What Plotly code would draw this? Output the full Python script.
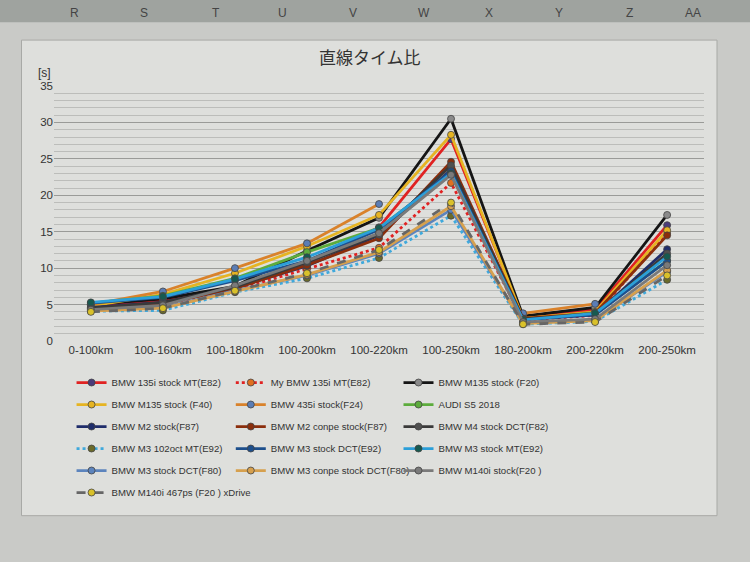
import plotly.graph_objects as go

categories = ['0-100km', '100-160km', '100-180km', '100-200km', '100-220km',
              '100-250km', '180-200km', '200-220km', '200-250km']

names = [
    'BMW 135i stock MT(E82)', 'My BMW 135i MT(E82)', 'BMW M135 stock (F20)',
    'BMW M135 stock (F40)', 'BMW 435i stock(F24)', 'AUDI S5 2018',
    'BMW M2 stock(F87)', 'BMW M2 conpe stock(F87)', 'BMW M4 stock DCT(F82)',
    'BMW M3 102oct MT(E92)', 'BMW M3 stock DCT(E92)', 'BMW M3 stock MT(E92)',
    'BMW M3 stock DCT(F80)', 'BMW M3 conpe stock DCT(F80)', 'BMW M140i stock(F20 )',
    'BMW M140i 467ps (F20 ) xDrive',
]

s_135i_mt = [4.9, 5.5, 7.3, 10.6, 15.6, 27.7, 3.3, 4.3, 15.9]
s_my_135i = [4.5, 5.0, 7.0, 9.9, 12.8, 21.7, 2.9, 3.5, 14.8]
s_m135_f20 = [5.0, 5.8, 7.5, 12.4, 16.9, 30.5, 3.4, 4.6, 17.3]
s_m135_f40 = [4.8, 6.4, 9.3, 13.0, 17.3, 28.3, 3.1, 4.0, 15.2]
s_435i = [5.0, 6.8, 10.0, 13.4, 18.8, None, 3.8, 5.1, None]
s_audi_s5 = [5.2, 6.2, 8.6, 12.2, 15.5, 23.0, 3.0, 3.9, 11.0]
s_m2 = [4.6, 5.3, 7.3, 10.3, 14.5, 23.5, 3.0, 3.6, 12.6]
s_m2_coupe = [4.4, 5.1, 7.2, 10.4, 14.1, 24.6, 3.1, 3.8, 14.5]
s_m4_dct = [4.5, 5.3, 7.4, 10.8, 14.6, 24.1, 3.0, 3.7, 12.0]
s_m3_102oct = [4.1, 4.2, 6.7, 8.6, 11.4, 17.2, 2.3, 2.7, 8.4]
s_m3_dct_e92 = [5.2, 6.0, 8.3, 11.0, 15.3, 23.3, 2.9, 3.6, 11.0]
s_m3_mt_e92 = [5.3, 6.1, 8.5, 11.5, 15.5, 23.0, 2.9, 3.8, 11.6]
s_m3_dct_f80 = [4.2, 4.6, 6.9, 9.0, 12.0, 18.0, 2.5, 2.9, 9.5]
s_m3c_dct_f80 = [4.1, 4.5, 6.8, 9.1, 12.2, 18.5, 2.4, 2.8, 9.7]
s_m140i = [4.3, 4.9, 7.6, 11.0, 14.8, 22.8, 2.6, 3.0, 10.4]
s_m140i_xd = [4.0, 4.5, 6.9, 9.3, 12.5, 19.0, 2.3, 2.6, 9.0]

series = [s_135i_mt, s_my_135i, s_m135_f20, s_m135_f40, s_435i, s_audi_s5,
          s_m2, s_m2_coupe, s_m4_dct, s_m3_102oct, s_m3_dct_e92, s_m3_mt_e92,
          s_m3_dct_f80, s_m3c_dct_f80, s_m140i, s_m140i_xd]

line_colors = ['#e02222', '#e02222', '#151515', '#e6b422', '#d9822b', '#5cac3c',
               '#1f2d6b', '#8b2e0c', '#3a3a3a', '#3fa9dc', '#1d4f8c', '#2b9fd9',
               '#5c84bd', '#d6a04e', '#7a7a7a', '#666666']
marker_colors = ['#4b3b7a', '#e07020', '#8a8a8a', '#e6b422', '#5b7db5', '#5cac3c',
                 '#1f2d6b', '#8b2e0c', '#505050', '#6b6b2a', '#1d4f8c', '#165a50',
                 '#5c84bd', '#d6a04e', '#7a7a7a', '#d9c12a']
dashes = ['solid', 'dot', 'solid', 'solid', 'solid', 'solid', 'solid', 'solid',
          'solid', 'dot', 'solid', 'solid', 'solid', 'solid', 'solid', 'dash']

FONT = 'Liberation Sans, Arial, sans-serif'

fig = go.Figure()
legend_ids = ['legend', 'legend2', 'legend3']
for i, (nm, vals) in enumerate(zip(names, series)):
    fig.add_trace(go.Scatter(
        x=categories, y=vals, name=nm, mode='lines+markers',
        line=dict(color=line_colors[i], width=2.8, dash=dashes[i]),
        marker=dict(color=marker_colors[i], size=7,
                    line=dict(color='#444444', width=0.8)),
        legend=legend_ids[i % 3], legendgroup=nm,
    ))

leg_common = dict(orientation='v', yanchor='top', xanchor='left',
                  bgcolor='rgba(0,0,0,0)', tracegroupgap=3,
                  font=dict(family=FONT, size=9.6, color='#333333'))

fig.update_layout(
    width=750, height=562,
    margin=dict(l=54, r=46, t=86, b=221),
    paper_bgcolor='#c9cac7',
    plot_bgcolor='rgba(0,0,0,0)',
    font=dict(family=FONT, size=12, color='#333333'),
    title=dict(text='直線タイム比', x=0.493, xanchor='center', y=0.897,
               yanchor='middle',
               font=dict(family='Noto Sans CJK JP', size=17, color='#333333')),
    showlegend=True,
    legend=dict(x=0.027, y=-0.106, **leg_common),
    legend2=dict(x=0.272, y=-0.106, **leg_common),
    legend3=dict(x=0.530, y=-0.106, **leg_common),
    xaxis=dict(type='category', showgrid=False, zeroline=False, showline=False,
               ticks='', tickfont=dict(size=11.5, color='#333333')),
    yaxis=dict(range=[0, 35], dtick=5, showgrid=True, gridcolor='#9a9b98',
               gridwidth=1, zeroline=False, showline=False, ticks='',
               tickfont=dict(size=11.5, color='#333333'),
               minor=dict(dtick=1, showgrid=True, gridcolor='#bcbdba', gridwidth=1)),
    shapes=[
        dict(type='rect', xref='paper', yref='paper', x0=-0.05, x1=1.02,
             y0=-0.685, y1=1.18, fillcolor='#dedfdc',
             line=dict(color='#a8a9a6', width=1), layer='below'),
        dict(type='rect', xref='paper', yref='paper', x0=-0.09, x1=1.08,
             y0=1.25, y1=1.337, fillcolor='#9fa39f', line=dict(width=0),
             layer='below'),
    ],
    annotations=[
        dict(text='[s]', xref='paper', yref='paper', x=-0.028, y=1.085,
             showarrow=False, font=dict(size=12, color='#333333')),
    ] + [
        dict(text=t, xref='paper', yref='paper', x=(px - 54) / 650, y=1.32,
             showarrow=False, font=dict(size=12, color='#444444'))
        for t, px in zip(['R', 'S', 'T', 'U', 'V', 'W', 'X', 'Y', 'Z', 'AA'],
                         [68, 138, 210, 282, 353, 424, 495, 565, 635, 703])
    ],
)

fig.write_html('out.html', config={'displayModeBar': False},
               post_script="document.body.style.margin='0';document.body.style.overflow='hidden';")
